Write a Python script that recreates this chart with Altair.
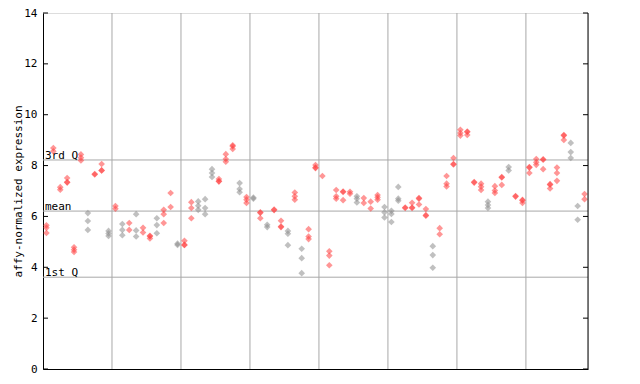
import altair as alt
import pandas as pd

# values per sample column (replicates)
values = [
    [5.65, 5.55, 5.35], [8.69, 8.56], [7.15, 7.05], [7.51, 7.34, 7.34], [4.79, 4.69, 4.60],
    [8.44, 8.31, 8.20], [6.13, 5.82, 5.47], [7.67, 7.65], [8.06, 7.81, 7.81], [5.43, 5.33, 5.23],
    [6.41, 6.30], [5.70, 5.47, 5.26], [5.74, 5.47], [6.09, 5.45, 5.21], [5.55, 5.37],
    [5.24, 5.22, 5.13], [5.93, 5.66, 5.34], [6.26, 6.09, 5.74], [6.92, 6.37], [4.93, 4.88],
    [5.04, 4.88, 4.88], [6.56, 6.33, 5.93], [6.59, 6.42, 6.26], [6.68, 6.33, 6.09], [7.86, 7.71, 7.55],
    [7.47, 7.38, 7.38], [8.45, 8.26, 8.15], [8.80, 8.76, 8.65], [7.31, 7.08, 6.95], [6.76, 6.66, 6.53],
    [6.74, 6.70], [6.16, 6.14, 5.93], [5.67, 5.58], [6.27, 6.25], [5.83, 5.60, 5.58],
    [5.43, 5.32, 4.87], [6.94, 6.79, 6.66], [4.73, 4.36, 3.77], [5.50, 5.21, 5.11], [8.02, 7.92, 7.90],
    [7.59], [4.63, 4.46, 4.08], [7.04, 6.79, 6.70], [6.98, 6.96, 6.64], [6.97, 6.89],
    [6.79, 6.70, 6.55], [6.72, 6.53], [6.58, 6.31], [6.84, 6.75, 6.66], [6.37, 6.16, 5.96],
    [6.22, 6.10, 5.78], [7.16, 6.70, 6.62], [6.35, 6.33], [6.54, 6.35, 6.33], [6.72, 6.70, 6.47],
    [6.29, 6.05, 6.03], [4.83, 4.48, 3.98], [5.54, 5.30], [7.59, 7.29, 7.18], [8.30, 8.06, 8.04],
    [9.41, 9.28, 9.18], [9.34, 9.32, 9.20], [7.35, 7.33], [7.29, 7.17, 7.04], [6.58, 6.45, 6.33],
    [7.19, 7.02, 6.92], [7.55, 7.53, 7.24], [7.94, 7.81], [6.80, 6.78], [6.65, 6.63, 6.53],
    [7.94, 7.92, 7.71], [8.26, 8.13, 8.03], [8.25, 8.23, 7.86], [7.27, 7.25, 7.10], [7.92, 7.71, 7.40],
    [9.20, 9.18, 9.01], [8.89, 8.53, 8.30], [6.41, 5.87], [6.88, 6.68],
]
# colour group per column: r = red, g = gray
colours = (
    "rrrrrrgrrg"
    "rgrgrrgrrg"
    "rrgggrrrgr"
    "grgrrgrgrr"
    "rrrrrgrrrg"
    "ggrrrrgrrr"
    "rrrrgrrgrr"
    "rrrrrrggr"
)

group_breaks = [10.5, 20.5, 30.5, 40.5, 50.5, 60.5, 70.5]
stat_names = ["3rd Q", "mean", "1st Q"]
stat_values = [8.22, 6.21, 3.61]
y_ticks = [0, 2, 4, 6, 8, 10, 12, 14]

rows = []
for i, vs in enumerate(values):
    for v in vs:
        rows.append({"col": i + 1, "value": v, "grp": colours[i]})
pts = pd.DataFrame(rows)

W, H = 545, 356
xs = alt.Scale(domain=[0.5, 79.5], nice=False, zero=False)
ys = alt.Scale(domain=[0, 14], nice=False, zero=False)
FONT = "DejaVu Sans Mono"
GRID = "#A8A8A8"

x_axis = alt.Axis(title=None, labels=False, ticks=False, grid=False, domainColor="black", domainWidth=1)
y_axis = alt.Axis(
    title="affy-normalized expression", values=y_ticks, grid=False, ticks=False,
    labelPadding=6, labelFont=FONT, labelFontSize=11, labelColor="black",
    titleFont=FONT, titleFontSize=11, titleFontWeight="normal", titleColor="black",
    titlePadding=0, domainColor="black", domainWidth=1)

base_pts = alt.Chart(pts).encode(
    x=alt.X("col:Q", scale=xs, axis=x_axis),
    y=alt.Y("value:Q", scale=ys, axis=y_axis),
)
axes_layer = base_pts.mark_point(opacity=0, size=1)

breaks = alt.Chart(pd.DataFrame({"b": group_breaks})).mark_rule(color=GRID, strokeWidth=1).encode(
    x=alt.X("b:Q", scale=xs, axis=x_axis)
)
stats_df = pd.DataFrame({"name": stat_names, "v": stat_values})
stat_lines = alt.Chart(stats_df).mark_rule(color=GRID, strokeWidth=1).encode(
    y=alt.Y("v:Q", scale=ys, axis=y_axis)
)
stat_text = alt.Chart(stats_df).mark_text(
    align="left", baseline="bottom", font=FONT, fontSize=11, color="black", dx=1, dy=1
).encode(x=alt.value(1), y=alt.Y("v:Q", scale=ys, axis=y_axis), text="name:N")

points = base_pts.mark_point(shape="diamond", filled=True, size=44, opacity=0.55).encode(
    color=alt.Color("grp:N", scale=alt.Scale(domain=["r", "g"], range=["#FF4040", "#8C8C8C"]), legend=None),
)

tick_df = pd.DataFrame({"t": y_ticks})
left_ticks = alt.Chart(tick_df).mark_rule(color="black").encode(
    x=alt.value(0), x2=alt.value(5), y=alt.Y("t:Q", scale=ys, axis=y_axis)
)
right_ticks = alt.Chart(tick_df).mark_rule(color="black").encode(
    x=alt.value(W - 5), x2=alt.value(W), y=alt.Y("t:Q", scale=ys, axis=y_axis)
)
right_border = alt.Chart(pd.DataFrame({"a": [0]})).mark_rule(color="black").encode(
    x=alt.value(W), y=alt.value(0), y2=alt.value(H)
)

chart = alt.layer(axes_layer, breaks, stat_lines, stat_text, points, left_ticks, right_ticks, right_border).properties(
    width=W, height=H, autosize="none",
    padding={"left": 35, "top": 5, "right": 40, "bottom": 10},
).configure_view(stroke=None).configure(background="white")

chart.save("out.html", embed_options={"renderer": "svg", "actions": False})
